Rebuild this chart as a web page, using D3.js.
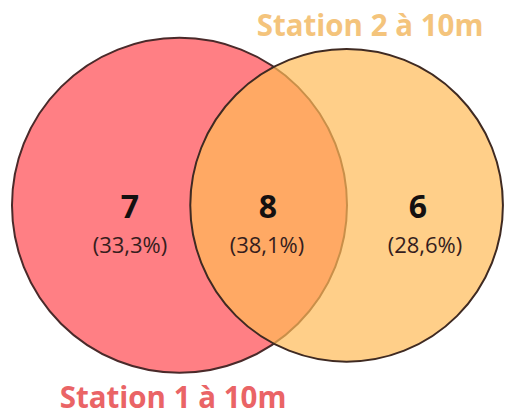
<!DOCTYPE html>
<html>
<head>
<meta charset="utf-8">
<script src="https://cdn.jsdelivr.net/npm/d3@7"></script>
<style>
  html, body { margin: 0; padding: 0; background: #fff; }
  svg { display: block; }
</style>
</head>
<body>
<svg id="chart" width="505" height="416"></svg>
<script>
// Set names and their sizes
const setNames = ["Station 1 à 10m", "Station 2 à 10m"];
const setSizes = [15, 14];

// Region counts: only set 1, both, only set 2
const regionNames = ["only1", "both", "only2"];
const regionCounts = [7, 8, 6];
const regionPercents = ["(33,3%)", "(38,1%)", "(28,6%)"];

const W = 505, H = 416;
const svg = d3.select("#chart");

// Circle radius grows with set size
const rScale = d3.scaleLinear().domain([0, 15]).range([0, 167.5]);
const r1 = rScale(setSizes[0]);
const r2 = rScale(setSizes[1]);

// Horizontal layout of the two circles
const cy = 205.3;
const c1x = 179.5;
const c2x = 346.6;

// Set 1 circle
svg.append("circle")
  .attr("cx", c1x).attr("cy", cy).attr("r", r1)
  .attr("fill", "#ff7f84")
  .attr("stroke", "#4a2a2a")
  .attr("stroke-width", 2);

// Set 2 circle, translucent so the overlap blends to orange
svg.append("circle")
  .attr("cx", c2x).attr("cy", cy).attr("r", r2)
  .attr("fill", "rgb(255,186,87)")
  .attr("fill-opacity", 0.7)
  .attr("stroke", "#3f2a22")
  .attr("stroke-width", 2);

// Label anchor per region (count, percentage)
const countX = { only1: 130, both: 268, only2: 418 };
const pctX = { only1: 130, both: 267, only2: 425 };

const labels = svg.append("g")
  .attr("font-family", "'Open Sans', sans-serif")
  .attr("text-anchor", "middle");

labels.selectAll("text.count")
  .data(regionNames)
  .join("text")
  .attr("class", "count")
  .attr("x", d => countX[d])
  .attr("y", 218)
  .attr("font-size", 32)
  .attr("font-weight", 700)
  .attr("fill", "#141010")
  .text((d, i) => regionCounts[i]);

labels.selectAll("text.pct")
  .data(regionNames)
  .join("text")
  .attr("class", "pct")
  .attr("x", d => pctX[d])
  .attr("y", 253)
  .attr("font-size", 22)
  .attr("fill", "#361d1d")
  .text((d, i) => regionPercents[i]);

// Set titles
svg.append("text")
  .attr("x", 370).attr("y", 36)
  .attr("text-anchor", "middle")
  .attr("font-family", "'Open Sans', sans-serif")
  .attr("font-size", 29.5)
  .attr("font-weight", 700)
  .attr("fill", "#f4c47c")
  .text(setNames[1]);

svg.append("text")
  .attr("x", 173).attr("y", 408)
  .attr("text-anchor", "middle")
  .attr("font-family", "'Open Sans', sans-serif")
  .attr("font-size", 29.5)
  .attr("font-weight", 700)
  .attr("fill", "#ea6466")
  .text(setNames[0]);
</script>
</body>
</html>
